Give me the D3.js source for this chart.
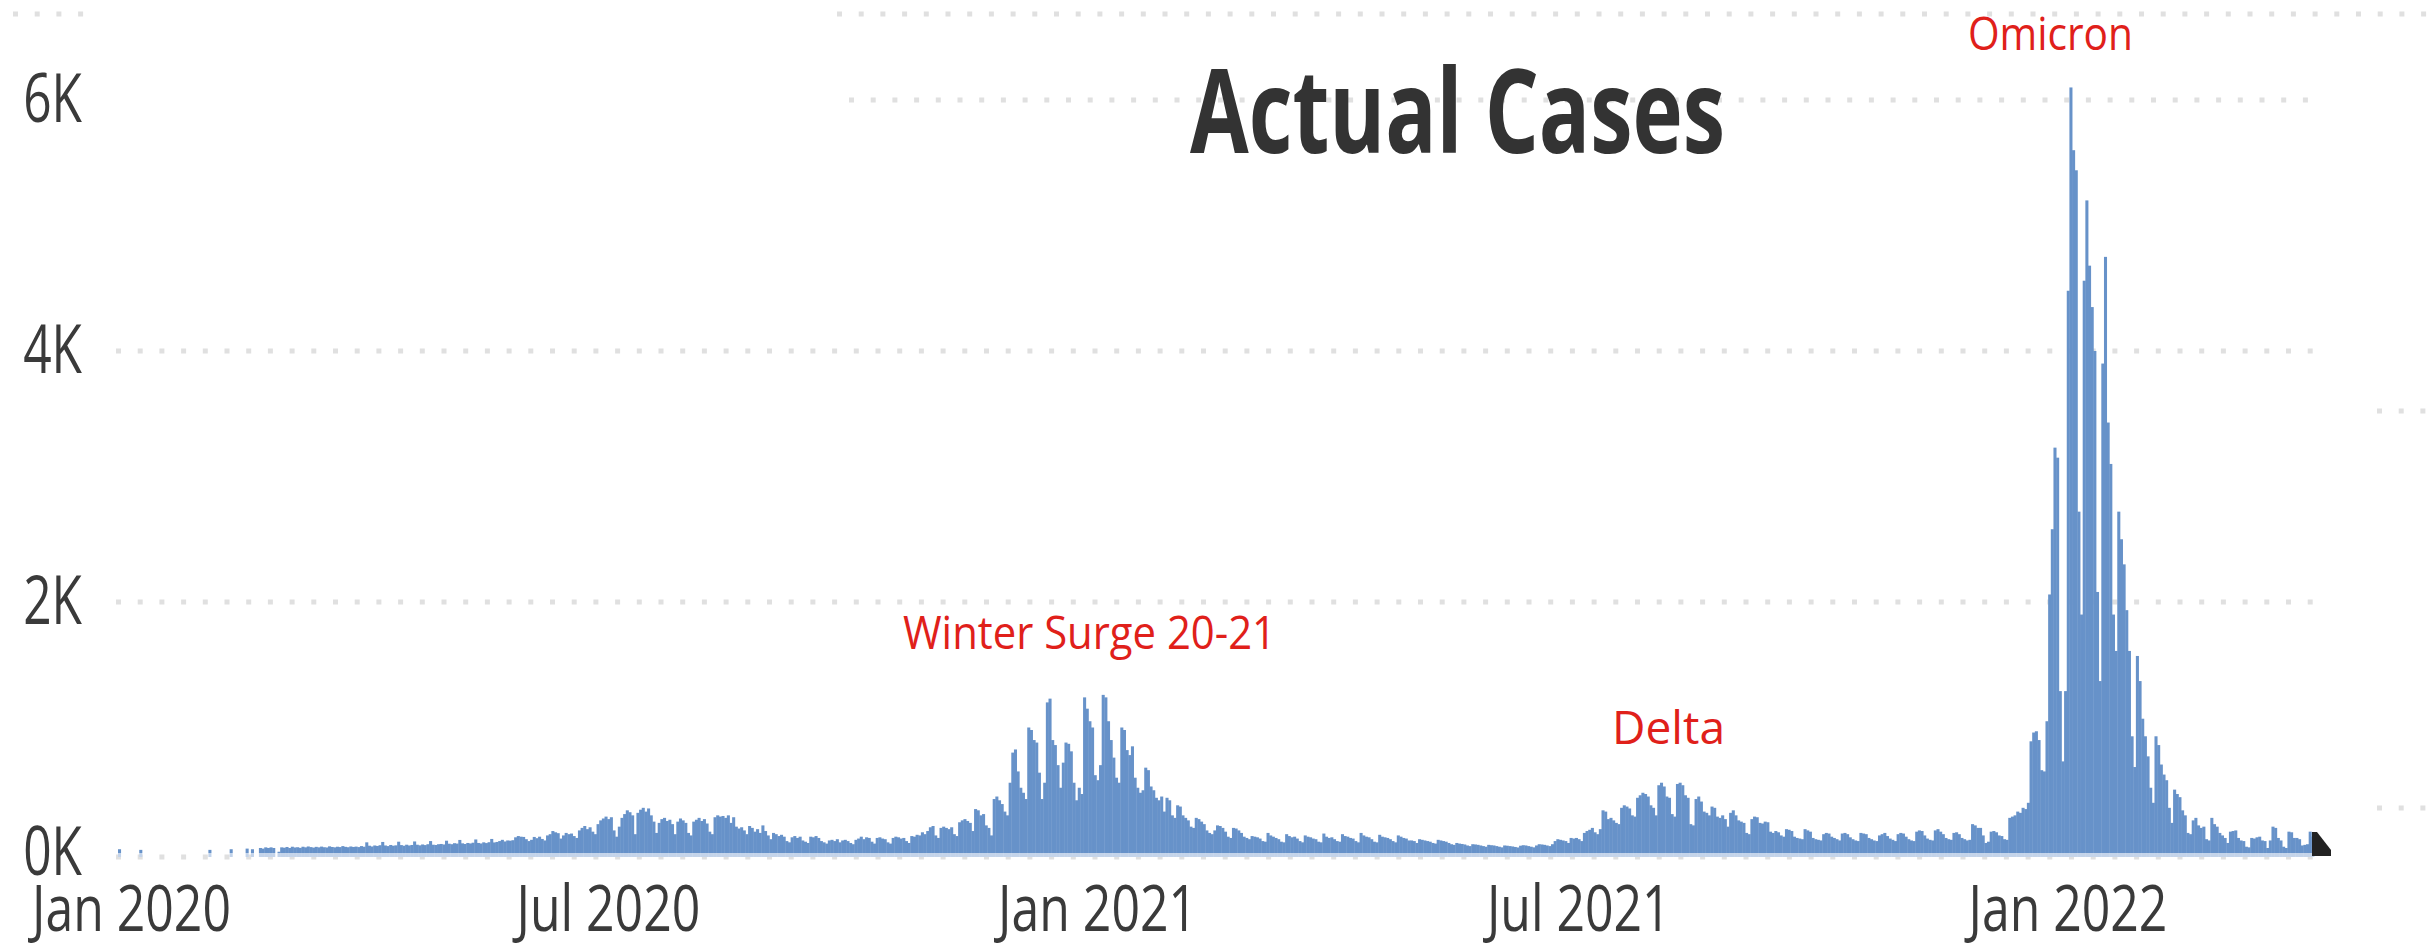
<!DOCTYPE html>
<html>
<head>
<meta charset="utf-8">
<script src="https://cdn.jsdelivr.net/npm/d3@7/dist/d3.min.js"></script>
<style>
  html, body { margin: 0; padding: 0; background: #ffffff; }
  svg { display: block; }
</style>
</head>
<body>
<div id="chart"></div>
<script>
// daily actual cases, first day is 1 Jan 2020
const firstDay = "2020-01-01";

const cases2020H1 = [
  30,0,0,0,0,0,0, 0,25,0,0,0,0,0, 0,0,0,0,0,0,0, 0,0,0,0,0,0,0, 0,0,0,
  0,0,0,25,0,0,0, 0,0,0,0,30,0,0, 0,0,0,35,0,30,0, 0,40,35,45,40,45,40, 0,
  10,45,42,48,40,50,44, 46,41,50,45,52,47,43, 49,45,51,46,44,53,48, 45,50,47,55,49,46,52, 48,51,47,
  55,50,85,58,52,60,56, 62,88,60,55,64,58,61, 90,63,58,66,60,64,92, 66,61,68,63,70,95,66, 64,70,
  72,68,98,74,70,78,75, 104,77,72,80,76,82,108, 80,76,85,79,86,112,84, 88,95,105,92,100,98,102, 125,135,130,
  128,110,95,105,128,118,130, 112,100,140,150,175,165,158, 115,140,160,150,155,135,120, 180,200,215,190,205,170,150, 230,260
];

const cases2020H2 = [
  275,290,270,285,180,130,210, 280,310,340,325,300,150,320, 345,360,330,355,300,250,160, 240,270,280,255,265,230,150, 250,275,260,
  240,160,140,250,265,280,255, 270,235,170,150,285,300,290, 295,280,300,240,285,210,195, 205,180,150,215,200,170,190, 160,220,175,
  140,110,160,150,135,145,130, 95,85,125,135,120,130,100, 90,80,130,125,135,120,95, 85,75,100,105,95,110,85, 100,105,
  95,80,70,105,115,130,110, 125,120,90,75,120,125,115, 110,85,75,120,130,125,115, 120,95,80,135,130,145,140, 165,150,175,
  205,215,140,120,200,210,200, 190,205,150,135,245,260,270, 255,240,175,350,340,300,310, 220,200,140,430,450,420,390, 330,300,
  560,800,825,650,520,480,430, 1000,980,900,880,640,430,560, 1200,1230,900,860,700,520,720, 880,870,810,560,420,520,470, 1240,1150,1050
];

const cases2021H1 = [
  1000,620,580,700,1260,1240,1050, 900,760,600,560,1000,980,820, 780,850,600,520,480,500,680, 660,530,500,440,420,450,330, 440,420,300,
  280,380,370,300,280,260,210, 200,280,270,250,230,180,160, 150,180,220,215,200,170,130, 120,200,195,180,160,130,120,
  110,135,130,125,115,95,90, 160,140,130,120,110,90,85, 150,135,125,130,115,95,85, 140,130,125,115,110,90,85, 155,130,120,
  125,110,95,90,150,135,130, 120,115,95,85,160,140,130, 125,110,90,85,145,130,125, 120,110,95,85,140,130,120, 115,100,
  100,95,80,110,105,100,95, 90,80,75,105,100,95,90, 80,70,65,80,75,72,68, 60,55,70,68,65,60,55, 50,65,62,
  60,55,50,45,60,58,55, 52,48,44,58,62,60,55, 50,45,60,70,68,65,60, 55,70,95,110,105,100,95, 80,120
];

const cases2021H2 = [
  115,120,110,95,160,175,185, 200,165,150,190,340,330,270, 280,260,240,230,360,380,370, 355,300,290,440,460,480,470, 450,380,360,
  300,540,560,530,450,440,310, 290,550,560,540,460,440,230, 220,430,450,410,330,320,300, 370,360,290,280,300,270,210, 320,340,300,
  260,250,240,160,150,270,290, 285,240,235,250,245,170,160, 175,165,140,130,190,185,175, 130,120,115,110,190,180,170, 120,110,
  105,100,150,160,155,130,120, 110,100,155,160,150,125,110, 100,95,160,155,150,120,110, 100,95,140,150,160,135,115, 105,95,150,
  160,155,130,110,100,95,170, 180,175,140,115,105,100,180, 190,170,150,120,110,105,160, 165,150,120,110,100,105,230, 220,200,
  200,140,80,90,170,175,165, 140,135,110,105,280,290,300, 330,320,360,350,400,890,960, 970,900,660,650,1050,2060,2580, 3230,3150,1290
];

const cases2022 = [
  730,1290, 4480,6100,5600,5440, 2720,1900, 4560,5200,4680,4350,4000, 2080,1370, 3900,4750,3430,3100,
  1900,1610, 2720,2500,2300,1935,1610, 930,685, 1570,1370,1070,
  930,770,520,400,930,860,705, 625,580,360,240,505,470,445, 340,300,160,150,260,280,220, 200,210,110,100,280,230,210,
  160,140,120,80,170,175,180, 120,100,95,50,45,120,115, 125,130,100,95,40,100,210, 200,120,100,50,40,170,165, 120,120,110,
  60,65,70,170,130
];

const yTicks = [0, 2000, 4000, 6000];
const xTicks = ["2020-01-01", "2020-07-01", "2021-01-01", "2021-07-01", "2022-01-01"];

const chartTitle = "Actual Cases";
const waveNames = ["Winter Surge 20-21", "Delta", "Omicron"];

const W = 2432, H = 952;
const parse = d3.timeParse("%Y-%m-%d");

const values = [].concat(cases2020H1, cases2020H2, cases2021H1, cases2021H2, cases2022);
const start = parse(firstDay);
const data = values.map(function(v, i) {
    return { date: d3.timeDay.offset(start, i), value: v };
});

const svg = d3.select("#chart").append("svg")
    .attr("width", W)
    .attr("height", H);

const x = d3.scaleTime()
    .domain([start, d3.timeDay.offset(start, data.length)])
    .range([118, 2314]);

const y = d3.scaleLinear()
    .domain([0, 6000])
    .range([853, 100]);

const gridColor = "#e0e0e0";

// squeeze a text to a width (the screenshot is narrow)
function fitWidth(sel, w) {
    sel.attr("textLength", w).attr("lengthAdjust", "spacingAndGlyphs");
}
function squeeze(sel, k) {
    sel.each(function() {
        const len = this.getComputedTextLength();
        d3.select(this).attr("textLength", len * k).attr("lengthAdjust", "spacingAndGlyphs");
    });
}

function dotted(x1, x2, yy) {
    svg.append("line")
        .attr("x1", x1).attr("x2", x2)
        .attr("y1", yy).attr("y2", yy)
        .attr("stroke", gridColor)
        .attr("stroke-width", 5)
        .attr("stroke-dasharray", "5 16.7");
}

// leftovers of other visuals at the edges of the screenshot
dotted(13, 98, 14);
dotted(837, 2432, 14);
dotted(2377, 2432, 411);
dotted(2377, 2432, 808);

// gridlines
yTicks.forEach(function(t) {
    dotted(t === 6000 ? 849 : 116, 2314, t === 0 ? 857 : y(t));
});

// bars
const step = x(d3.timeDay.offset(start, 1)) - x(start);

svg.append("g").selectAll("rect.base")
    .data(data.filter(function(d) { return d.value > 0; }))
    .enter().append("rect")
    .attr("x", function(d) { return x(d.date); })
    .attr("y", y(0))
    .attr("width", step + 0.4)
    .attr("height", 4)
    .attr("fill", "#c4d4ea");

svg.append("g").selectAll("rect.bar")
    .data(data)
    .enter().append("rect")
    .attr("x", function(d) { return x(d.date); })
    .attr("y", function(d) { return y(d.value); })
    .attr("width", step + 0.4)
    .attr("height", function(d) { return y(0) - y(d.value); })
    .attr("fill", "#6792c9");

// end marker
const lastX = x(d3.timeDay.offset(start, data.length));
svg.append("polygon")
    .attr("points", [[lastX - 2, 832], [lastX + 3, 832], [lastX + 17, 850], [lastX + 17, 856], [lastX - 2, 856]].join(" "))
    .attr("fill", "#222222");

// y axis
const yAxis = svg.append("g")
    .attr("transform", "translate(82,0)")
    .call(d3.axisLeft(y).tickValues(yTicks).tickSize(0).tickPadding(0)
        .tickFormat(function(d) { return (d / 1000) + "K"; }));
yAxis.select(".domain").remove();
yAxis.selectAll("text")
    .attr("font-family", "'Open Sans', sans-serif")
    .attr("font-size", 68)
    .attr("fill", "#3a3a3a")
    .call(squeeze, 0.73);

// x axis
const xAxis = svg.append("g")
    .attr("transform", "translate(6,886)")
    .call(d3.axisBottom(x).tickValues(xTicks.map(parse)).tickSize(0).tickPadding(0)
        .tickFormat(d3.timeFormat("%b %Y")));
xAxis.select(".domain").remove();
xAxis.selectAll("text")
    .attr("font-family", "'Open Sans', sans-serif")
    .attr("font-size", 64)
    .attr("fill", "#3a3a3a")
    .call(squeeze, 0.78);
xAxis.select(".tick text").attr("x", 7);

// title
svg.append("text")
    .attr("x", 1190)
    .attr("y", 153)
    .attr("font-family", "'Open Sans', sans-serif")
    .attr("font-weight", "bold")
    .attr("font-size", 116)
    .attr("fill", "#333333")
    .text(chartTitle)
    .call(fitWidth, 535);

// wave labels
const labelPos = [[903, 649, 373], [1612, 744, 113], [1968, 50, 165]];
waveNames.forEach(function(name, i) {
    svg.append("text")
        .attr("x", labelPos[i][0])
        .attr("y", labelPos[i][1])
        .attr("font-family", "'Open Sans', sans-serif")
        .attr("font-size", 46)
        .attr("fill", "#e0201a")
        .text(name)
        .call(fitWidth, labelPos[i][2]);
});
</script>
</body>
</html>
